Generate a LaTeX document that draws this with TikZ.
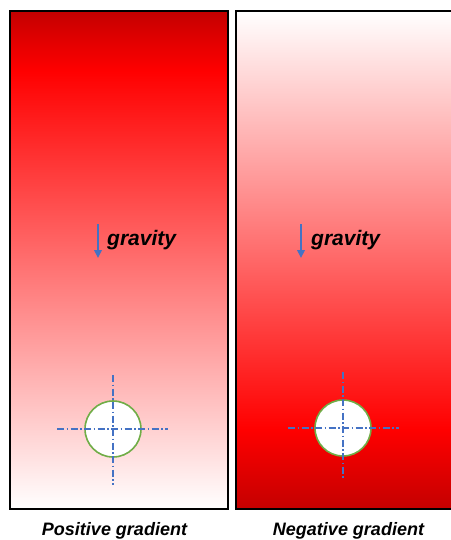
\documentclass[tikz,border=0pt]{standalone}
\usepackage{fontspec}
\setmainfont{Liberation Sans}
\usetikzlibrary{arrows.meta}
\definecolor{darkred}{RGB}{196,0,0}
\definecolor{axisblue}{RGB}{68,114,196}
\definecolor{rimgreen}{RGB}{112,173,71}
\pgfdeclareverticalshading{posgrad}{100bp}{color(0bp)=(white); color(25bp)=(white);
  color(69bp)=(red); color(75bp)=(darkred); color(100bp)=(darkred)}
\pgfdeclareverticalshading{neggrad}{100bp}{color(0bp)=(darkred); color(25bp)=(darkred);
  color(33bp)=(red); color(75bp)=(white); color(100bp)=(white)}
\begin{document}
\begin{tikzpicture}[x=1pt, y=-1pt,
        panel/.style={rectangle, draw=black, line width=2pt, inner sep=0pt,
          minimum height=498pt, shade},
        hole/.style={circle, draw=rimgreen, fill=white, line width=1.6pt,
          minimum size=56pt, inner sep=0pt},
        axis/.style={draw=axisblue, line width=1.2pt,
          dash pattern=on 7pt off 2.5pt on 1.5pt off 2.5pt},
        arrow/.style={-{Triangle[length=8pt, width=7.5pt]}, draw=axisblue,
          line width=2.2pt},
        lab/.style={font=\fontsize{21}{25}\selectfont\bfseries\itshape,
          anchor=base west, inner sep=0pt},
        caption/.style={font=\fontsize{18}{22}\selectfont\bfseries\itshape,
          anchor=base, inner sep=0pt}
      ]
      \useasboundingbox (0,0) rectangle (450,540);
      \node[panel, shading=posgrad, minimum width=218.5pt] (pos) at (118.75,260) {};
      \node[panel, shading=neggrad, minimum width=216.5pt] (neg) at (343.75,260) {};
      \node[hole] (h1) at (113,429) {};
      \node[hole] (h2) at (343,428) {};
      \draw[axis] ([yshift=54pt]h1.center) -- ([yshift=-56pt]h1.center);
      \draw[axis] ([xshift=-56pt]h1.center) -- ([xshift=55pt]h1.center);
      \draw[axis] ([yshift=56pt]h2.center) -- ([yshift=-52pt]h2.center);
      \draw[axis] ([xshift=-55pt]h2.center) -- ([xshift=56pt]h2.center);
      \coordinate (g1a) at (98,224);
      \coordinate (g1b) at (98,258);
      \coordinate (g2a) at (301,224);
      \coordinate (g2b) at (301,258);
      \draw[arrow] (g1a) -- (g1b);
      \draw[arrow] (g2a) -- (g2b);
      \node[lab] (t1) at (107,245) {gravity};
      \node[lab] (t2) at (311,245) {gravity};
      \node[caption] (c1) at (114.5,535) {Positive gradient};
      \node[caption] (c2) at (348.5,535) {Negative gradient};
    \end{tikzpicture}
\end{document}
